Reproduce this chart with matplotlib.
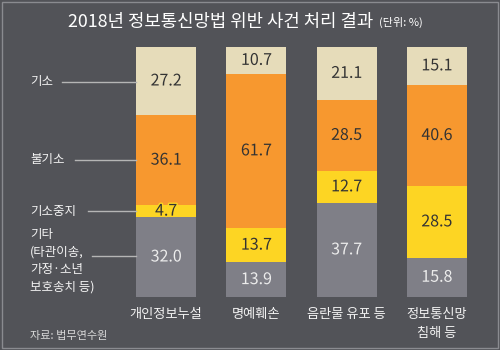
import matplotlib.pyplot as plt
import matplotlib.patheffects as pe
from matplotlib.lines import Line2D
from matplotlib.patches import Rectangle
import numpy as np

plt.rcParams['font.family'] = ['Noto Sans CJK KR', 'DejaVu Sans']

categories = ['개인정보누설', '명예훼손', '음란물 유포 등', '정보통신망\n침해 등']
etc = [32.0, 13.9, 37.7, 15.8]        # 기타
suspended = [4.7, 13.7, 12.7, 28.5]   # 기소중지
dismissed = [36.1, 61.7, 28.5, 40.6]  # 불기소
indicted = [27.2, 10.7, 21.1, 15.1]   # 기소

BG = '#525358'
W, H = 500, 350


def fx(px):
    return px / W


def fy(py):
    return 1 - py / H


fig = plt.figure(figsize=(5, 3.5), dpi=100, facecolor=BG)
fig.patches.append(Rectangle((fx(2), fy(348)), fx(496), 346 / H, transform=fig.transFigure,
                             fill=False, edgecolor='#8a8b90', lw=1))

ax = fig.add_axes([fx(121), fy(297), fx(361), 250 / H])
ax.set_facecolor(BG)

x = np.arange(len(categories))
width = 60 / 90
series = [
    (etc, '#7f7f87', '#ececec'),
    (suspended, '#fdd523', '#333333'),
    (dismissed, '#f7982f', '#333333'),
    (indicted, '#e6dcba', '#333333'),
]
bottom = np.zeros(len(categories))
for vals, color, tcolor in series:
    vals = np.array(vals)
    ax.bar(x, vals, width, bottom=bottom, color=color, edgecolor='none')
    for i, v in enumerate(vals):
        stroke = [pe.withStroke(linewidth=2, foreground=color)]
        ax.text(x[i], bottom[i] + v / 2, f'{v:.1f}', ha='center', va='center',
                fontsize=11.5, color=tcolor, path_effects=stroke)
    bottom += vals

ax.set_xlim(-0.5, len(categories) - 0.5)
ax.set_ylim(0, 100)
ax.axis('off')

for i, c in enumerate(categories):
    ax.text(x[i], -4.5, c, ha='center', va='top', fontsize=9.5, color='#f2f2f2',
            linespacing=1.6)

# title + unit right after it
title = fig.text(fx(68), fy(22), '2018년 정보통신망법 위반 사건 처리 결과', ha='left', va='center',
                 fontsize=12.8, color='#ffffff')
ax.annotate('(단위: %)', xy=(1, 0.5), xycoords=title, xytext=(4, 0), textcoords='offset points',
            ha='left', va='center', fontsize=8, color='#ffffff', annotation_clip=False)

# left legend labels with leader lines
legend_items = [
    ('기소', 82, 62),
    ('불기소', 160, 75),
    ('기소중지', 211, 88),
]
for label, ypx, xstart in legend_items:
    fig.text(fx(30), fy(ypx), label, ha='left', va='center', fontsize=9, color='#f2f2f2')
    fig.lines.append(Line2D([fx(xstart), fx(136)], [fy(ypx), fy(ypx)], transform=fig.transFigure,
                            color='#b5b5b5', lw=1))

fig.text(fx(30), fy(228), '기타\n(타관이송,\n가정·소년\n보호송치 등)', ha='left', va='top',
         fontsize=9, color='#f2f2f2', linespacing=1.45)
fig.lines.append(Line2D([fx(92), fx(136)], [fy(256), fy(256)], transform=fig.transFigure,
                        color='#b5b5b5', lw=1))

fig.text(fx(30), fy(336), '자료: 법무연수원', ha='left', va='center', fontsize=8, color='#d8d8d8')

fig.savefig('out.png', dpi=100, facecolor=BG)
